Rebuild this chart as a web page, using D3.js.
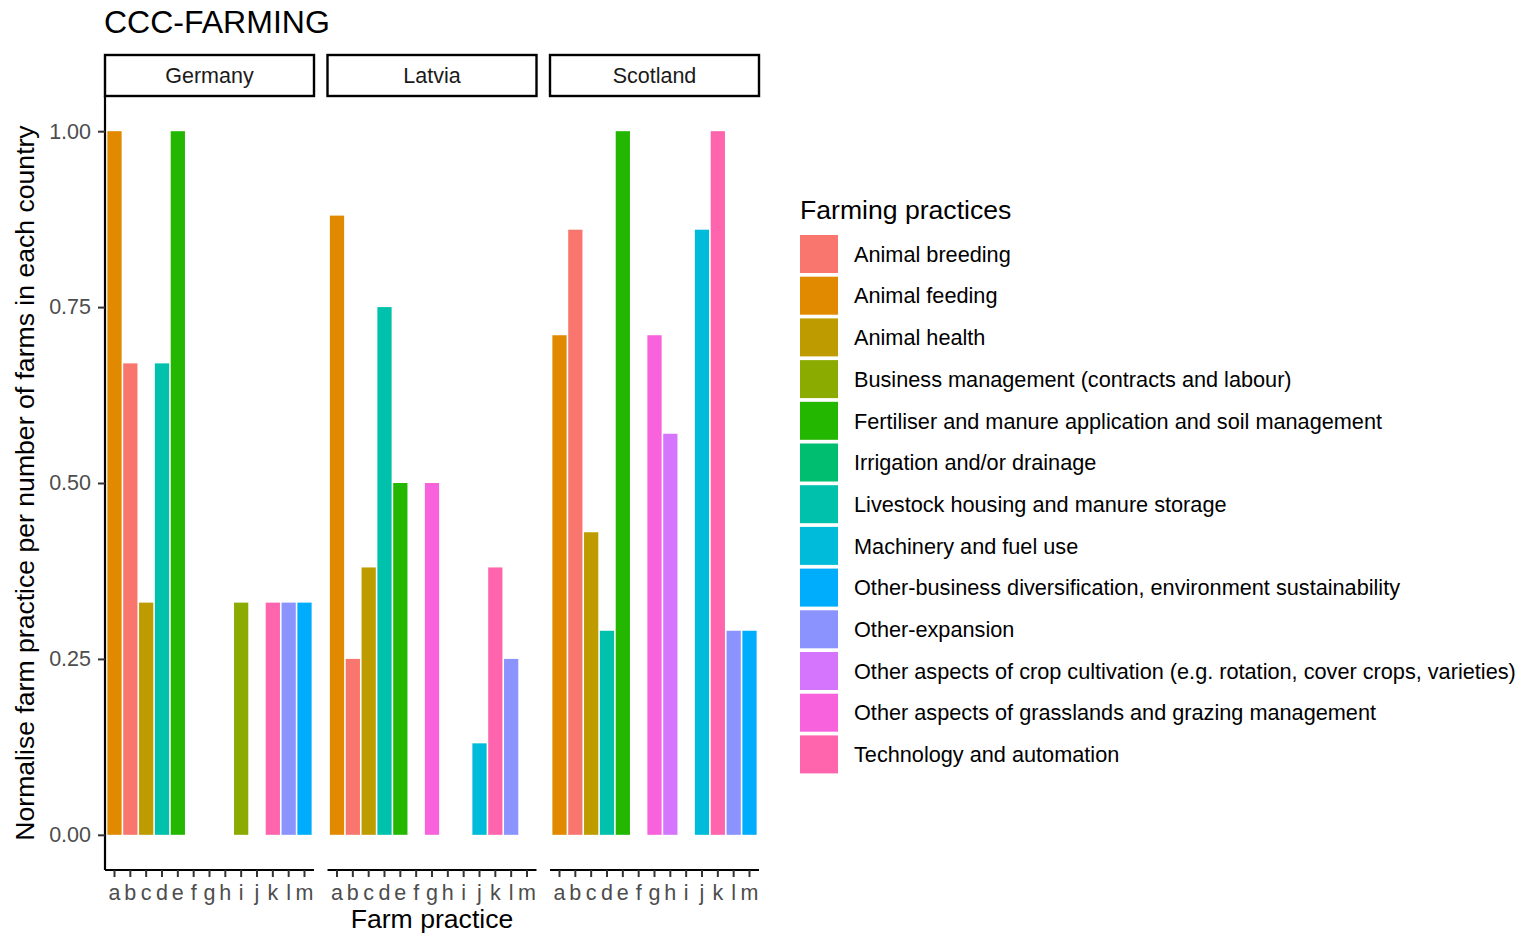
<!DOCTYPE html>
<html>
<head>
<meta charset="utf-8">
<script src="https://cdn.jsdelivr.net/npm/d3@7"></script>
<style>
  html, body { margin: 0; padding: 0; background: #fff; }
  svg { display: block; font-family: "Liberation Sans", Arial, sans-serif; }
</style>
</head>
<body>
<svg id="chart" width="1527" height="936"></svg>
<script>
// Farm practice codes on the x axis
const categories = ["a","b","c","d","e","f","g","h","i","j","k","l","m"];

// Practice that each code stands for
const codePractice = [
  "Animal feeding",
  "Animal breeding",
  "Animal health",
  "Livestock housing and manure storage",
  "Fertiliser and manure application and soil management",
  "Irrigation and/or drainage",
  "Other aspects of grasslands and grazing management",
  "Other aspects of crop cultivation (e.g. rotation, cover crops, varieties)",
  "Business management (contracts and labour)",
  "Machinery and fuel use",
  "Technology and automation",
  "Other-expansion",
  "Other-business diversification, environment sustainability"
];

// Legend order (alphabetical factor levels)
const practices = [
  "Animal breeding",
  "Animal feeding",
  "Animal health",
  "Business management (contracts and labour)",
  "Fertiliser and manure application and soil management",
  "Irrigation and/or drainage",
  "Livestock housing and manure storage",
  "Machinery and fuel use",
  "Other-business diversification, environment sustainability",
  "Other-expansion",
  "Other aspects of crop cultivation (e.g. rotation, cover crops, varieties)",
  "Other aspects of grasslands and grazing management",
  "Technology and automation"
];

const practiceColors = [
  "#F8766D","#E18A00","#BE9C00","#8CAB00","#24B700","#00BE70","#00C1AB",
  "#00BBDA","#00ACFC","#8B93FF","#D575FE","#F962DD","#FF65AC"
];

const countries = ["Germany", "Latvia", "Scotland"];

// Normalised share per code a..m (null = practice not reported)
const germanyValues  = [1.00, 0.67, 0.33, 0.67, 1.00, null, null, null, 0.33, null, 0.33, 0.33, 0.33];
const latviaValues   = [0.88, 0.25, 0.38, 0.75, 0.50, null, 0.50, null, null, 0.13, 0.38, 0.25, null];
const scotlandValues = [0.71, 0.86, 0.43, 0.29, 1.00, null, 0.71, 0.57, null, 0.86, 1.00, 0.29, 0.29];

const yTicks = [0, 0.25, 0.5, 0.75, 1];
const yTickLabels = ["0.00", "0.25", "0.50", "0.75", "1.00"];

const countryValues = [germanyValues, latviaValues, scotlandValues];

const svg = d3.select("#chart");

const color = d3.scaleOrdinal().domain(practices).range(practiceColors);

// Layout
const panelTop = 96, panelBottom = 870;
const panelWidth = 209, panelStep = 222.5, firstPanelLeft = 105;
const stripTop = 55, stripHeight = 41;

const y = d3.scaleLinear().domain([-0.05, 1.05]).range([panelBottom, panelTop]);
const x = d3.scaleBand().domain(categories).range([0, panelWidth])
  .paddingInner(0.1).paddingOuter(0.15);

// Title
svg.append("text")
  .attr("x", 104).attr("y", 33)
  .attr("font-size", 32).attr("fill", "#000")
  .text("CCC-FARMING");

countries.forEach((country, ci) => {
  const left = firstPanelLeft + ci * panelStep;
  const g = svg.append("g").attr("transform", `translate(${left},0)`);

  // Strip
  g.append("rect")
    .attr("x", 0).attr("y", stripTop)
    .attr("width", panelWidth).attr("height", stripHeight)
    .attr("fill", "#fff").attr("stroke", "#000").attr("stroke-width", 2.4);
  g.append("text")
    .attr("x", panelWidth / 2).attr("y", stripTop + stripHeight / 2)
    .attr("dy", "0.36em").attr("text-anchor", "middle")
    .attr("font-size", 21.5).attr("fill", "#1A1A1A")
    .text(country);

  // Bars
  const rows = categories.map((c, i) => ({ code: c, value: countryValues[ci][i], practice: codePractice[i] }))
    .filter(d => d.value !== null);
  g.selectAll("rect.bar").data(rows).enter().append("rect")
    .attr("class", "bar")
    .attr("x", d => x(d.code))
    .attr("width", x.bandwidth())
    .attr("y", d => y(d.value))
    .attr("height", d => y(0) - y(d.value))
    .attr("fill", d => color(d.practice));

  // X axis
  const xAxis = g.append("g")
    .attr("transform", `translate(0,${panelBottom})`)
    .call(d3.axisBottom(x).tickSizeInner(7).tickSizeOuter(0).tickPadding(8));
  xAxis.select(".domain").attr("stroke", "#000").attr("stroke-width", 2.2)
    .attr("d", `M0,0H${panelWidth}`);
  xAxis.selectAll(".tick line").attr("stroke", "#333").attr("stroke-width", 2);
  xAxis.selectAll(".tick text")
    .attr("font-size", 21.5).attr("fill", "#4D4D4D")
    .attr("font-family", "'Liberation Sans', Arial, sans-serif");

  // Y axis on the first panel only
  if (ci === 0) {
    const yAxis = g.append("g")
      .call(d3.axisLeft(y).tickValues(yTicks)
        .tickFormat((d, i) => yTickLabels[i])
        .tickSizeInner(7).tickSizeOuter(0).tickPadding(7));
    yAxis.select(".domain").attr("stroke", "#000").attr("stroke-width", 2.2)
      .attr("d", `M0,${panelTop}V${panelBottom}`);
    yAxis.selectAll(".tick line").attr("stroke", "#333").attr("stroke-width", 2);
    yAxis.selectAll(".tick text")
      .attr("font-size", 21.5).attr("fill", "#4D4D4D")
      .attr("font-family", "'Liberation Sans', Arial, sans-serif");
  }
});

// Axis titles
const panelsRight = firstPanelLeft + 2 * panelStep + panelWidth;
svg.append("text")
  .attr("x", (firstPanelLeft + panelsRight) / 2).attr("y", 928)
  .attr("text-anchor", "middle")
  .attr("font-size", 26.6).attr("fill", "#000")
  .text("Farm practice");

svg.append("text")
  .attr("transform", `translate(34,${(panelTop + panelBottom) / 2}) rotate(-90)`)
  .attr("text-anchor", "middle")
  .attr("font-size", 26.6).attr("fill", "#000")
  .text("Normalise farm practice per number of farms in each country");

// Legend
const legend = svg.append("g").attr("transform", "translate(800,0)");
legend.append("text")
  .attr("x", 0).attr("y", 219)
  .attr("font-size", 26.6).attr("fill", "#000")
  .text("Farming practices");

const keyPitch = 41.7, keyTop = 235, keySize = 38;
const items = legend.selectAll("g.item").data(practices).enter().append("g")
  .attr("class", "item")
  .attr("transform", (d, i) => `translate(0,${keyTop + i * keyPitch})`);
items.append("rect")
  .attr("x", 0).attr("y", 0)
  .attr("width", keySize).attr("height", keySize)
  .attr("fill", d => color(d));
items.append("text")
  .attr("x", 54).attr("y", keySize / 2).attr("dy", "0.36em")
  .attr("font-size", 21.7).attr("fill", "#000")
  .text(d => d);
</script>
</body>
</html>
